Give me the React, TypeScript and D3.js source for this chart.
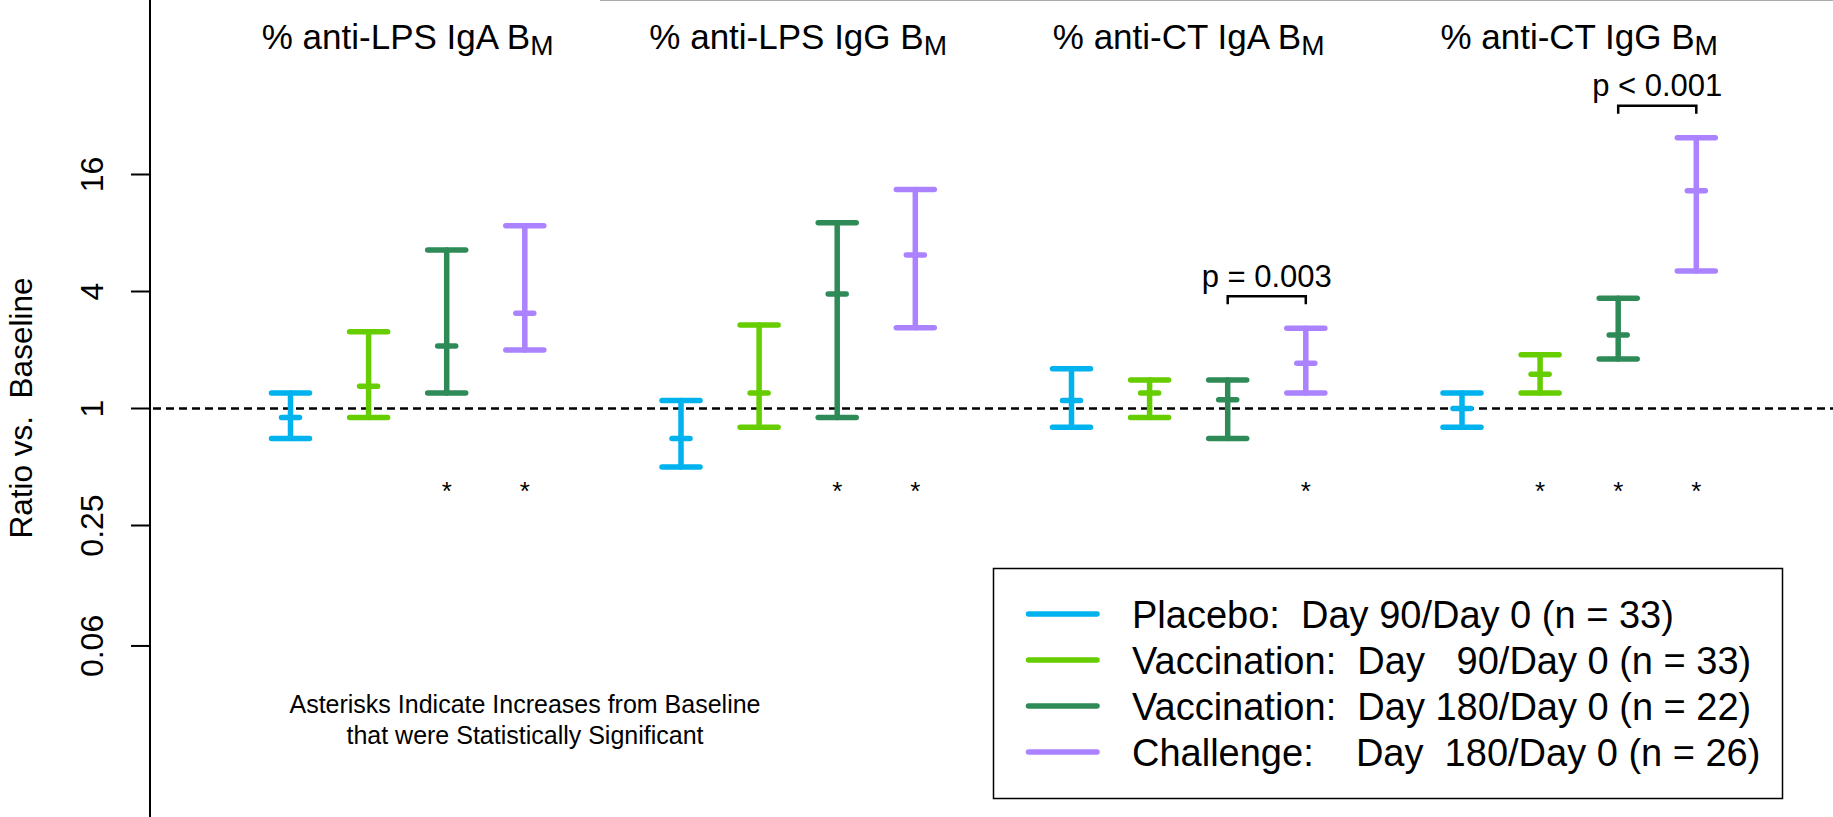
import * as d3 from "d3";

// panels (groups along x)
const panelTitles = ["% anti-LPS IgA B", "% anti-LPS IgG B", "% anti-CT IgA B", "% anti-CT IgG B"];
const panelSub = "M";

const seriesLabels = [
  "Placebo:  Day 90/Day 0 (n = 33)",
  "Vaccination:  Day   90/Day 0 (n = 33)",
  "Vaccination:  Day 180/Day 0 (n = 22)",
  "Challenge:    Day  180/Day 0 (n = 26)",
];
const seriesColors = ["#00B2EE", "#66CD00", "#2E8B57", "#AB82FF"];

// ratio vs baseline: lower CI, estimate, upper CI (one value per panel)
const placeboLow = [0.7, 0.5, 0.8, 0.8];
const placeboMid = [0.9, 0.7, 1.1, 1.0];
const placeboHigh = [1.2, 1.1, 1.6, 1.2];

const vacc90Low = [0.9, 0.8, 0.9, 1.2];
const vacc90Mid = [1.3, 1.2, 1.2, 1.5];
const vacc90High = [2.48, 2.69, 1.4, 1.89];

const vacc180Low = [1.2, 0.9, 0.7, 1.8];
const vacc180Mid = [2.1, 3.88, 1.11, 2.39];
const vacc180High = [6.54, 9.04, 1.4, 3.69];

const challLow = [2.0, 2.6, 1.2, 5.1];
const challMid = [3.09, 6.16, 1.71, 13.2];
const challHigh = [8.72, 13.4, 2.59, 24.7];

// significant increase from baseline (asterisk)
const sigPlacebo = [false, false, false, false];
const sigVacc90 = [false, false, false, true];
const sigVacc180 = [true, true, false, true];
const sigChall = [true, true, true, true];

// vacc day 180 vs challenge comparisons
const compPanels = [2, 3];
const compLabels = ["p = 0.003", "p < 0.001"];

const yTicks = [0.06, 0.25, 1, 4, 16];
const yTickLabels = ["0.06", "0.25", "1", "4", "16"];

const footnote = ["Asterisks Indicate Increases from Baseline", "that were Statistically Significant"];

const width = 1833;
const height = 817;
const axisX = 150;
const font = "'Liberation Sans', Arial, Helvetica, sans-serif";

const lows = [placeboLow, vacc90Low, vacc180Low, challLow];
const mids = [placeboMid, vacc90Mid, vacc180Mid, challMid];
const highs = [placeboHigh, vacc90High, vacc180High, challHigh];
const sigs = [sigPlacebo, sigVacc90, sigVacc180, sigChall];

const bars = panelTitles.flatMap((_, p) =>
  seriesLabels.map((_, s) => ({
    panel: p,
    series: s,
    pos: p * 5 + s + 1,
    low: lows[s][p],
    mid: mids[s][p],
    high: highs[s][p],
    sig: sigs[s][p],
  }))
);

const x = d3.scaleLinear().domain([0, 20]).range([212.4, 1774.4]);
const y = d3.scaleLog().base(2).domain([2 ** -7, 2 ** 7]).range([818, -1]);

const capW = 19;
const midW = 9;

export default function App() {
  const legendRowY = (i: number) => 614 + i * 46;

  return (
    <div style={{ position: "absolute", left: 0, top: 0 }}>
      <svg width={width} height={height} viewBox={`0 0 ${width} ${height}`} style={{ display: "block", fontFamily: font }}>
        <rect width={width} height={height} fill="#fff" />
        <line x1={600} x2={width} y1={0.5} y2={0.5} stroke="#aaa" strokeWidth={1} />

        {/* y axis */}
        <line x1={axisX} x2={axisX} y1={0} y2={height} stroke="#000" strokeWidth={2} />
        {yTicks.map((t, i) => (
          <g key={i} transform={`translate(0,${y(t)})`}>
            <line x1={131} x2={axisX} stroke="#000" strokeWidth={2} />
            <text transform="translate(103,0) rotate(-90)" textAnchor="middle" fontSize={32}>
              {yTickLabels[i]}
            </text>
          </g>
        ))}
        <text
          transform={`translate(32,408) rotate(-90)`}
          textAnchor="middle"
          fontSize={31.5}
          style={{ whiteSpace: "pre" }}
        >
          {"Ratio vs.  Baseline"}
        </text>

        {/* baseline */}
        <line x1={axisX + 3} x2={width} y1={y(1)} y2={y(1)} stroke="#000" strokeWidth={2.5} strokeDasharray="8 5" />

        {/* panel titles */}
        {panelTitles.map((t, p) => (
          <text key={p} x={(x(p * 5 + 1) + x(p * 5 + 4)) / 2} y={49} textAnchor="middle" fontSize={35}>
            {t}
            <tspan fontSize={28} dy={6}>{panelSub}</tspan>
          </text>
        ))}

        {/* error bars */}
        {bars.map((d, i) => {
          const cx = x(d.pos);
          const c = seriesColors[d.series];
          return (
            <g key={i} stroke={c} strokeWidth={5.5} strokeLinecap="round">
              <line x1={cx} x2={cx} y1={y(d.low)} y2={y(d.high)} />
              <line x1={cx - capW} x2={cx + capW} y1={y(d.high)} y2={y(d.high)} />
              <line x1={cx - capW} x2={cx + capW} y1={y(d.low)} y2={y(d.low)} />
              <line x1={cx - midW} x2={cx + midW} y1={y(d.mid)} y2={y(d.mid)} />
            </g>
          );
        })}

        {/* asterisks */}
        {bars
          .filter((d) => d.sig)
          .map((d, i) => (
            <text key={i} x={x(d.pos)} y={y(0.4) + 14} textAnchor="middle" fontSize={26}>
              *
            </text>
          ))}

        {/* comparison brackets */}
        {compPanels.map((p, i) => {
          const x1 = x(p * 5 + 3);
          const x2 = x(p * 5 + 4);
          const top = Math.min(y(highs[2][p]), y(highs[3][p]));
          const legEnd = top - 24;
          const barY = legEnd - 8;
          return (
            <g key={i}>
              <path
                d={`M${x1},${legEnd}V${barY}H${x2}V${legEnd}`}
                fill="none"
                stroke="#000"
                strokeWidth={2.5}
              />
              <text x={(x1 + x2) / 2} y={barY - 9.5} textAnchor="middle" fontSize={31}>
                {compLabels[i]}
              </text>
            </g>
          );
        })}

        {/* footnote */}
        {footnote.map((t, i) => (
          <text key={i} x={525} y={713 + i * 31} textAnchor="middle" fontSize={25}>
            {t}
          </text>
        ))}

        {/* legend */}
        <rect x={993.5} y={568.5} width={789} height={230} fill="#fff" stroke="#000" strokeWidth={1.5} />
        {seriesLabels.map((l, i) => (
          <g key={i}>
            <line
              x1={1028.5}
              x2={1097}
              y1={legendRowY(i)}
              y2={legendRowY(i)}
              stroke={seriesColors[i]}
              strokeWidth={5.5}
              strokeLinecap="round"
            />
            <text x={1132} y={legendRowY(i) + 14} fontSize={38} style={{ whiteSpace: "pre" }}>
              {l}
            </text>
          </g>
        ))}
      </svg>
    </div>
  );
}
